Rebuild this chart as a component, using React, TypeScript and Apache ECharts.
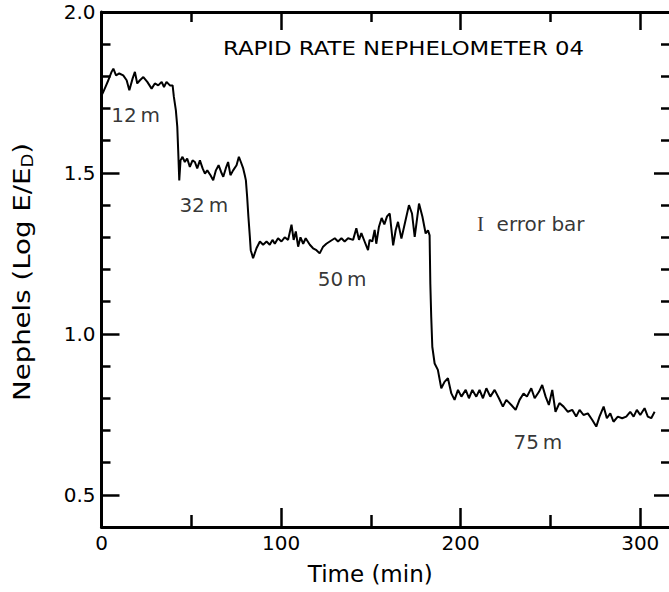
import React, { useEffect, useRef } from "react";
import * as echarts from "echarts";

// ---- data ----
const timeMin = [
  0, 1, 2.4, 3.8, 5.6, 6.6, 8.1, 9.9, 12.1, 14, 15.5, 17.3, 18.6, 19.9, 21.4, 23.3, 25.5, 27.9, 29.7, 31.6,
  33.5, 34.8, 36.2, 38.1, 39.6, 40.3, 41.4, 42.2, 42.7, 43.3, 44.0, 45.1, 46.4, 47.7, 49.2, 50.7, 52, 53.3,
  54.8, 56.3, 57.6, 58.9, 60.7, 62.2, 63.7, 65.2, 66.6, 67.8, 69.2, 70.5, 71.8, 73.3, 75.2, 76.5, 77.6,
  78.9, 79.8, 80.4, 81.1, 81.8, 82.6, 83.1, 83.9, 84.4, 86.3, 88.2, 90, 91.9, 93.7, 95.2, 96.5, 98.3,
  100.2, 102, 103.9, 105.8, 107, 108.2, 109.5, 110.8, 112.3, 113.7, 116, 117.8, 119.7, 121.5, 123.4,
  125.2, 127.1, 129.9, 131.7, 133.6, 135.4, 137.3, 140.1, 141.9, 143.4, 144.7, 146.5, 148.4, 149.3,
  150.8, 152.1, 153, 154.5, 156, 157.5, 159, 160.5, 162.4, 163.8, 165.1, 167, 168.9, 171.2, 172.9, 174.4,
  176.8, 178.7, 180.5, 181.8, 182.7, 183.1, 183.6, 184.2, 185.5, 187.3, 189.2, 191, 192.9, 194.8, 196.6,
  198.5, 200.4, 202.8, 204.6, 206.5, 208.7, 210.5, 212.4, 214.3, 216.5, 218.9, 221.3, 223.5, 225.4,
  228.2, 230.6, 232.8, 235, 236.9, 239.3, 241.2, 243.6, 245.4, 247.3, 249.1, 251, 252.8, 255, 257.3,
  259.7, 262.1, 264.3, 266.2, 268.4, 270.8, 273.2, 275.5, 277.3, 279.6, 281.4, 283.3, 285.1, 287.5,
  289.9, 292.2, 294.4, 296.3, 298.1, 300, 302.4, 304.2, 306.1, 308,
];
const nephels = [
  1.74, 1.752, 1.77, 1.788, 1.814, 1.824, 1.803, 1.809, 1.803, 1.788, 1.757, 1.793, 1.814, 1.778, 1.788,
  1.798, 1.783, 1.762, 1.778, 1.772, 1.783, 1.767, 1.783, 1.772, 1.772, 1.736, 1.695, 1.643, 1.57, 1.477,
  1.539, 1.55, 1.534, 1.545, 1.519, 1.539, 1.534, 1.514, 1.539, 1.514, 1.498, 1.508, 1.493, 1.477, 1.508,
  1.524, 1.503, 1.488, 1.514, 1.534, 1.493, 1.508, 1.524, 1.55, 1.534, 1.514, 1.493, 1.477, 1.426, 1.364,
  1.302, 1.26, 1.245, 1.235, 1.266, 1.287, 1.277, 1.287, 1.277, 1.292, 1.28, 1.297, 1.287, 1.3, 1.292,
  1.339, 1.292, 1.318, 1.271, 1.3, 1.28, 1.297, 1.277, 1.266, 1.26, 1.25, 1.271, 1.28, 1.287, 1.297,
  1.287, 1.297, 1.287, 1.297, 1.292, 1.328, 1.292, 1.313, 1.287, 1.26, 1.292, 1.287, 1.323, 1.28, 1.333,
  1.36, 1.34, 1.365, 1.374, 1.275, 1.322, 1.348, 1.296, 1.343, 1.4, 1.374, 1.301, 1.405, 1.364, 1.312,
  1.322, 1.306, 1.156, 1.053, 0.96, 0.908, 0.888, 0.831, 0.851, 0.862, 0.815, 0.795, 0.826, 0.805, 0.826,
  0.8, 0.826, 0.805, 0.826, 0.8, 0.831, 0.805, 0.826, 0.8, 0.774, 0.795, 0.779, 0.764, 0.795, 0.815,
  0.805, 0.831, 0.8, 0.82, 0.841, 0.805, 0.779, 0.826, 0.758, 0.785, 0.774, 0.758, 0.764, 0.743, 0.764,
  0.748, 0.753, 0.733, 0.712, 0.743, 0.774, 0.738, 0.753, 0.727, 0.743, 0.738, 0.743, 0.758, 0.743,
  0.764, 0.748, 0.769, 0.743, 0.738, 0.758,
];

const xMajorTicks = [0, 100, 200, 300];
const xMinorTicks = [50, 150, 250];
const yMajorTicks = [0.5, 1.0, 1.5, 2.0];
const yMinorTicks = [0.6, 0.7, 0.8, 0.9, 1.1, 1.2, 1.3, 1.4, 1.6, 1.7, 1.8, 1.9];

const annotationTexts = ["12\u2009m", "32\u2009m", "50\u2009m", "75\u2009m", "{bar|I}  error bar"];
const annotationX = [19, 57, 134, 243, 239];
const annotationY = [1.68, 1.4, 1.17, 0.665, 1.34];

const chartTitle = "RAPID RATE NEPHELOMETER 04";
const xName = "Time (min)";
const yName = "{a|Nephels (Log E/E}{s|D}{a|)}";

const X_MIN = 0;
const X_MAX = 316;
const Y_MIN = 0.4;
const Y_MAX = 2.0;

const FONT = "DejaVu Sans";
const INK = "#000";

function xAxisCfg(position: string, ticks: number[], len: number, opts: any = {}) {
  return {
    type: "value",
    position,
    min: X_MIN,
    max: X_MAX,
    axisLine: { show: !!opts.line, onZero: false, lineStyle: { color: INK, width: 3 } },
    axisTick: {
      show: true,
      inside: true,
      customValues: ticks,
      length: len,
      lineStyle: { color: INK, width: 2.5 },
    },
    axisLabel: opts.labels
      ? {
          show: true,
          customValues: ticks,
          formatter: (v: number) => String(Math.round(v)),
          color: INK,
          fontSize: 20,
          fontFamily: FONT,
          margin: 6,
        }
      : { show: false },
    splitLine: { show: false },
    ...(opts.name
      ? {
          name: opts.name,
          nameLocation: "middle",
          nameGap: 35,
          nameTextStyle: { color: INK, fontSize: 23, fontFamily: FONT, padding: [0, 30, 0, 0] },
        }
      : {}),
  };
}

function yAxisCfg(position: string, ticks: number[], len: number, opts: any = {}) {
  return {
    type: "value",
    position,
    min: Y_MIN,
    max: Y_MAX,
    axisLine: { show: !!opts.line, onZero: false, lineStyle: { color: INK, width: 3 } },
    axisTick: {
      show: true,
      inside: true,
      customValues: ticks,
      length: len,
      lineStyle: { color: INK, width: 2.5 },
    },
    axisLabel: opts.labels
      ? {
          show: true,
          customValues: ticks,
          formatter: (v: number) => v.toFixed(1),
          color: INK,
          fontSize: 20,
          fontFamily: FONT,
          margin: 6,
        }
      : { show: false },
    splitLine: { show: false },
  };
}

export default function App() {
  const ref = useRef<HTMLDivElement>(null);
  useEffect(() => {
    if (!ref.current) return;
    const chart = echarts.init(ref.current, null, { renderer: "svg" });
    chart.setOption({
      animation: false,
      backgroundColor: "#fff",
      graphic: [
        {
          type: "text",
          x: 223,
          y: 48,
          scaleX: 1.14,
          style: {
            text: chartTitle,
            fill: INK,
            fontSize: 20,
            fontFamily: FONT,
            textAlign: "left",
            textVerticalAlign: "middle",
          },
        },
        {
          type: "text",
          x: 22,
          y: 272,
          rotation: Math.PI / 2,
          scaleX: 1.2,
          style: {
            text: yName,
            fill: INK,
            fontFamily: FONT,
            textAlign: "center",
            textVerticalAlign: "middle",
            rich: {
              a: { fontSize: 23, fontFamily: FONT, fill: INK, lineHeight: 30 },
              s: { fontSize: 15, fontFamily: FONT, fill: INK, lineHeight: 30, padding: [13, 0, 0, 0] },
            },
          },
        },
      ],
      grid: { left: 101.5, right: 0, top: 12, bottom: 65, containLabel: false },
      xAxis: [
        xAxisCfg("bottom", xMajorTicks, 19, { line: true, labels: true, name: xName }),
        xAxisCfg("bottom", xMinorTicks, 12),
        xAxisCfg("top", xMajorTicks, 18, { line: true }),
        xAxisCfg("top", xMinorTicks, 10),
      ],
      yAxis: [
        yAxisCfg("left", yMajorTicks, 18, { line: true, labels: true }),
        yAxisCfg("left", yMinorTicks, 9),
        yAxisCfg("right", yMajorTicks, 15),
        yAxisCfg("right", yMinorTicks, 8),
      ],
      series: [
        {
          type: "line",
          xAxisIndex: 0,
          yAxisIndex: 0,
          data: timeMin.map((t, i) => [t, nephels[i]]),
          showSymbol: false,
          symbol: "none",
          lineStyle: { color: INK, width: 2 },
        },
        {
          type: "scatter",
          xAxisIndex: 0,
          yAxisIndex: 0,
          symbolSize: 0,
          data: annotationX.map((x, i) => ({ value: [x, annotationY[i]], name: annotationTexts[i] })),
          label: {
            show: true,
            position: "inside",
            formatter: (p: any) => p.name,
            color: INK,
            fontSize: 20,
            fontFamily: FONT,
            rich: { bar: { fontFamily: "Liberation Serif", fontSize: 21, color: INK } },
          },
        },
      ],
    });
    return () => chart.dispose();
  }, []);
  return (
    <div
      ref={ref}
      style={{ position: "fixed", left: 0, top: 0, width: 669, height: 592, background: "#fff" }}
    />
  );
}
